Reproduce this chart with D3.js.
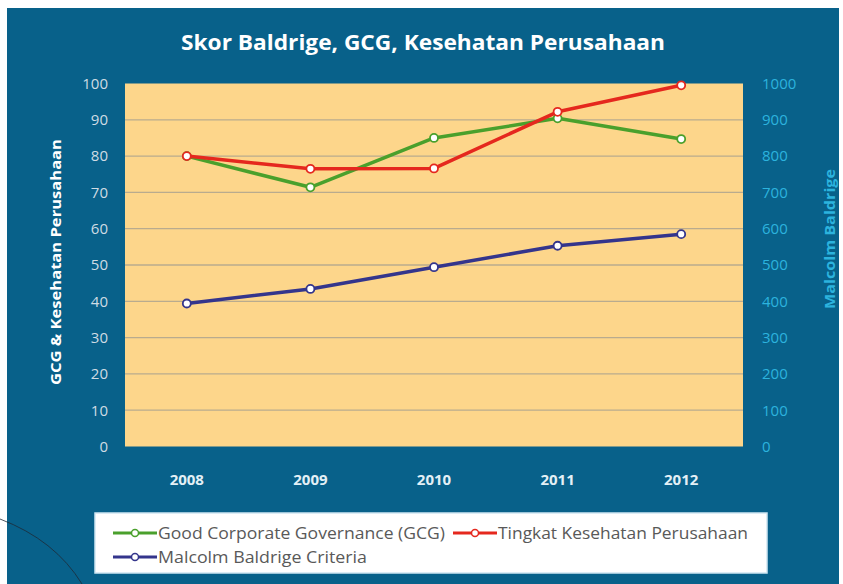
<!DOCTYPE html>
<html>
<head>
<meta charset="utf-8">
<script src="https://cdn.jsdelivr.net/npm/d3@7"></script>
<style>
  html, body { margin: 0; padding: 0; background: #fff; }
  svg { display: block; }
</style>
</head>
<body>
<div id="chart"></div>
<script>
// chart data
const years = ["2008", "2009", "2010", "2011", "2012"];
const gcg = [80, 71.4, 85, 90.4, 84.7];
const kesehatan = [80, 76.5, 76.6, 92.2, 99.5];
const baldrige = [394, 434, 494, 553, 585];
const leftTicks = [0, 10, 20, 30, 40, 50, 60, 70, 80, 90, 100];
const rightTicks = [0, 100, 200, 300, 400, 500, 600, 700, 800, 900, 1000];

const W = 843, H = 584;
const plot = { left: 125, right: 743, top: 83.5, bottom: 446.5 };
const font = "'Open Sans', 'DejaVu Sans', sans-serif";

const svg = d3.select("#chart").append("svg")
    .attr("width", W).attr("height", H);

// slide background
svg.append("rect").attr("x", 7).attr("y", 8)
    .attr("width", 832).attr("height", H - 8)
    .attr("fill", "#08618a");

const x = d3.scaleBand().domain(years).range([plot.left, plot.right]);
const yL = d3.scaleLinear().domain([0, 100]).range([plot.bottom, plot.top]);
const yR = d3.scaleLinear().domain([0, 1000]).range([plot.bottom, plot.top]);

svg.append("rect")
    .attr("x", plot.left).attr("y", plot.top)
    .attr("width", plot.right - plot.left).attr("height", plot.bottom - plot.top)
    .attr("fill", "#fdd68b");

// gridlines
svg.append("g")
    .selectAll("line").data(leftTicks.filter(d => d > 0 && d < 100)).join("line")
    .attr("x1", plot.left).attr("x2", plot.right)
    .attr("y1", d => yL(d)).attr("y2", d => yL(d))
    .attr("stroke", "#b9ab8e").attr("stroke-width", 1.3);

// left axis
const axL = svg.append("g")
    .attr("transform", `translate(${plot.left},0)`)
    .call(d3.axisLeft(yL).tickValues(leftTicks).tickSize(0).tickPadding(17));
axL.select(".domain").remove();
axL.selectAll("text")
    .attr("fill", "#cfdce4").attr("font-family", font).attr("font-size", 15);

// right axis
const axR = svg.append("g")
    .attr("transform", `translate(${plot.right},0)`)
    .call(d3.axisRight(yR).tickValues(rightTicks).tickFormat(d3.format("d"))
        .tickSize(0).tickPadding(19));
axR.select(".domain").remove();
axR.selectAll("text")
    .attr("fill", "#2cb3de").attr("font-family", font).attr("font-size", 15);

// bottom axis
const axB = svg.append("g")
    .attr("transform", `translate(0,${plot.bottom})`)
    .call(d3.axisBottom(x).tickSize(0).tickPadding(28));
axB.select(".domain").remove();
axB.selectAll("text")
    .attr("fill", "#e3f0f6").attr("font-family", font)
    .attr("font-size", 15).attr("font-weight", "bold");

// titles
svg.append("text")
    .attr("x", 423).attr("y", 50)
    .attr("text-anchor", "middle")
    .attr("fill", "#ffffff").attr("font-family", font)
    .attr("font-size", 21).attr("font-weight", "bold")
    .attr("textLength", 484).attr("lengthAdjust", "spacingAndGlyphs")
    .text("Skor Baldrige, GCG, Kesehatan Perusahaan");

svg.append("text")
    .attr("transform", "translate(61,262) rotate(-90)")
    .attr("text-anchor", "middle")
    .attr("fill", "#ffffff").attr("font-family", font)
    .attr("font-size", 14.5).attr("font-weight", "bold")
    .attr("textLength", 246).attr("lengthAdjust", "spacingAndGlyphs")
    .text("GCG & Kesehatan Perusahaan");

svg.append("text")
    .attr("transform", "translate(835,239) rotate(-90)")
    .attr("text-anchor", "middle")
    .attr("fill", "#2cb3de").attr("font-family", font)
    .attr("font-size", 14.5).attr("font-weight", "bold")
    .attr("textLength", 140).attr("lengthAdjust", "spacingAndGlyphs")
    .text("Malcolm Baldrige");

// series
const series = [
  { name: "Good Corporate Governance (GCG)", values: gcg, y: yL, color: "#4aa02c" },
  { name: "Tingkat Kesehatan Perusahaan", values: kesehatan, y: yL, color: "#e5281e" },
  { name: "Malcolm Baldrige Criteria", values: baldrige, y: yR, color: "#34358c" }
];
const cx = d => x(d) + x.bandwidth() / 2;

series.forEach(s => {
  const pts = years.map((yr, i) => [cx(yr), s.y(s.values[i])]);
  svg.append("path")
      .attr("d", d3.line()(pts))
      .attr("fill", "none").attr("stroke", s.color)
      .attr("stroke-width", 3.5).attr("stroke-linejoin", "round");
  svg.append("g").selectAll("circle").data(pts).join("circle")
      .attr("cx", d => d[0]).attr("cy", d => d[1]).attr("r", 4)
      .attr("fill", "#ffffff").attr("stroke", s.color).attr("stroke-width", 1.8);
});

// legend
const lg = svg.append("g");
lg.append("rect")
    .attr("x", 95).attr("y", 513).attr("width", 672).attr("height", 60)
    .attr("fill", "#ffffff").attr("stroke", "#cfe6f2").attr("stroke-width", 1.5);

const legendPos = [[113, 533], [453, 533], [113, 557]];
const legendWidths = [287, 250, 209];
series.forEach((s, i) => {
  const [lx, ly] = legendPos[i];
  const item = lg.append("g").attr("transform", `translate(${lx},${ly})`);
  item.append("line").attr("x1", 0).attr("x2", 44).attr("y1", 0).attr("y2", 0)
      .attr("stroke", s.color).attr("stroke-width", 3);
  item.append("circle").attr("cx", 22).attr("cy", 0).attr("r", 3.5)
      .attr("fill", "#fff").attr("stroke", s.color).attr("stroke-width", 1.5);
  item.append("text").attr("x", 45).attr("y", 0).attr("dy", "0.35em")
      .attr("fill", "#595959").attr("font-family", font).attr("font-size", 16.5)
      .attr("textLength", legendWidths[i]).attr("lengthAdjust", "spacingAndGlyphs")
      .text(s.name);
});

// decorative arc at the bottom-left corner of the slide
svg.append("path")
    .attr("d", "M0,519 Q55,540 82,584")
    .attr("fill", "none").attr("stroke", "#1e2a36").attr("stroke-width", 0.8);
</script>
</body>
</html>
